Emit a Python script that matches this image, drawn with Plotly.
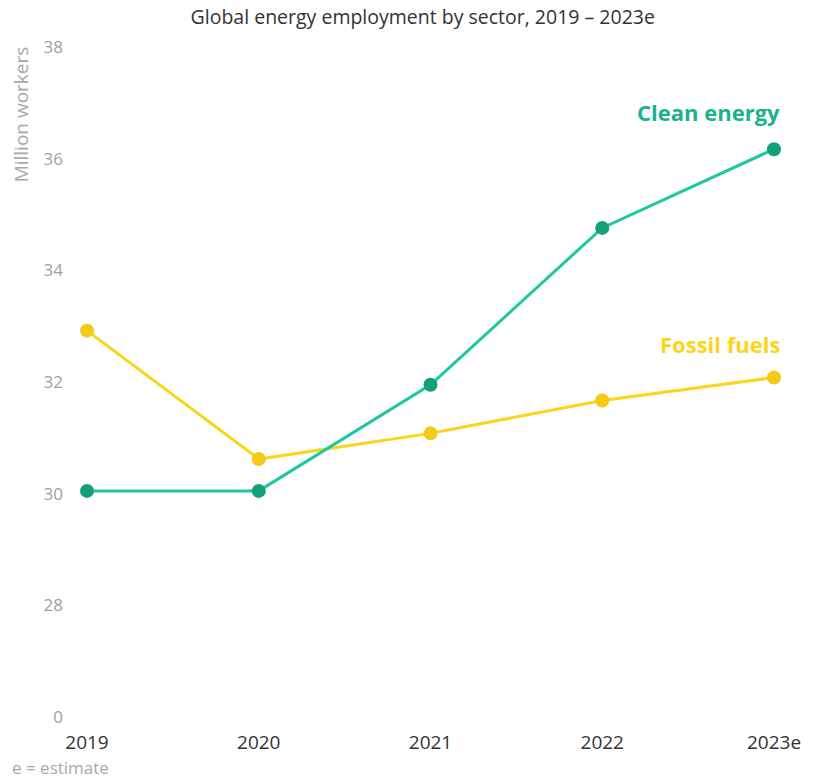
import plotly.graph_objects as go

years = ["2019", "2020", "2021", "2022", "2023e"]
clean_energy = [30.05, 30.05, 31.95, 34.76, 36.17]
fossil_fuels = [32.92, 30.62, 31.08, 31.67, 32.08]
y_tickvals = [26, 28, 30, 32, 34, 36, 38]
y_ticktext = ["0", "28", "30", "32", "34", "36", "38"]

xs = list(range(len(years)))
FONT = "Open Sans"

fig = go.Figure()
fig.add_trace(go.Scatter(
    x=xs, y=fossil_fuels, mode="lines+markers", name="Fossil fuels",
    line=dict(color="#fbd51a", width=3),
    marker=dict(color="#f6c817", size=14),
    cliponaxis=False, showlegend=False,
))
fig.add_trace(go.Scatter(
    x=xs, y=clean_energy, mode="lines+markers", name="Clean energy",
    line=dict(color="#1fc7a0", width=3),
    marker=dict(color="#11a07a", size=14),
    cliponaxis=False, showlegend=False,
))

fig.add_annotation(x=xs[-1], y=clean_energy[-1], xref="x", yref="y",
                   text="<b>Clean energy</b>", showarrow=False,
                   xanchor="right", yanchor="middle", xshift=8, yshift=37,
                   font=dict(family=FONT, size=22, color="#18b38e"))
fig.add_annotation(x=xs[-1], y=fossil_fuels[-1], xref="x", yref="y",
                   text="<b>Fossil fuels</b>", showarrow=False,
                   xanchor="right", yanchor="middle", xshift=8, yshift=34,
                   font=dict(family=FONT, size=22, color="#fbd51a"))

fig.add_annotation(x=-0.096, y=1.004, xref="paper", yref="paper",
                   xanchor="center", yanchor="top", textangle=-90,
                   text="Million workers", showarrow=False,
                   font=dict(family=FONT, size=19, color="#a8a8a8"))
fig.add_annotation(x=-0.112, y=-0.096, xref="paper", yref="paper",
                   xanchor="left", yanchor="bottom",
                   text="e = estimate", showarrow=False,
                   font=dict(family=FONT, size=17, color="#a8a8a8"))

fig.update_layout(
    width=813, height=784,
    margin=dict(l=87, r=35, t=47, b=67),
    paper_bgcolor="white", plot_bgcolor="white",
    title=dict(text="Global energy employment by sector, 2019 – 2023e",
               x=0.52, xanchor="center", y=0.978, yanchor="middle",
               font=dict(family=FONT, size=19.5, color="#333333")),
    xaxis=dict(range=[0, 4], tickvals=xs, ticktext=years,
               showgrid=False, zeroline=False, showline=False,
               ticklabelstandoff=12,
               tickfont=dict(family=FONT, size=19, color="#333333")),
    yaxis=dict(range=[26, 38], tickvals=y_tickvals, ticktext=y_ticktext,
               showgrid=False, zeroline=False, showline=False,
               ticklabelstandoff=23,
               tickfont=dict(family=FONT, size=17, color="#a0a0a0")),
)

fig.write_html("out.html")
